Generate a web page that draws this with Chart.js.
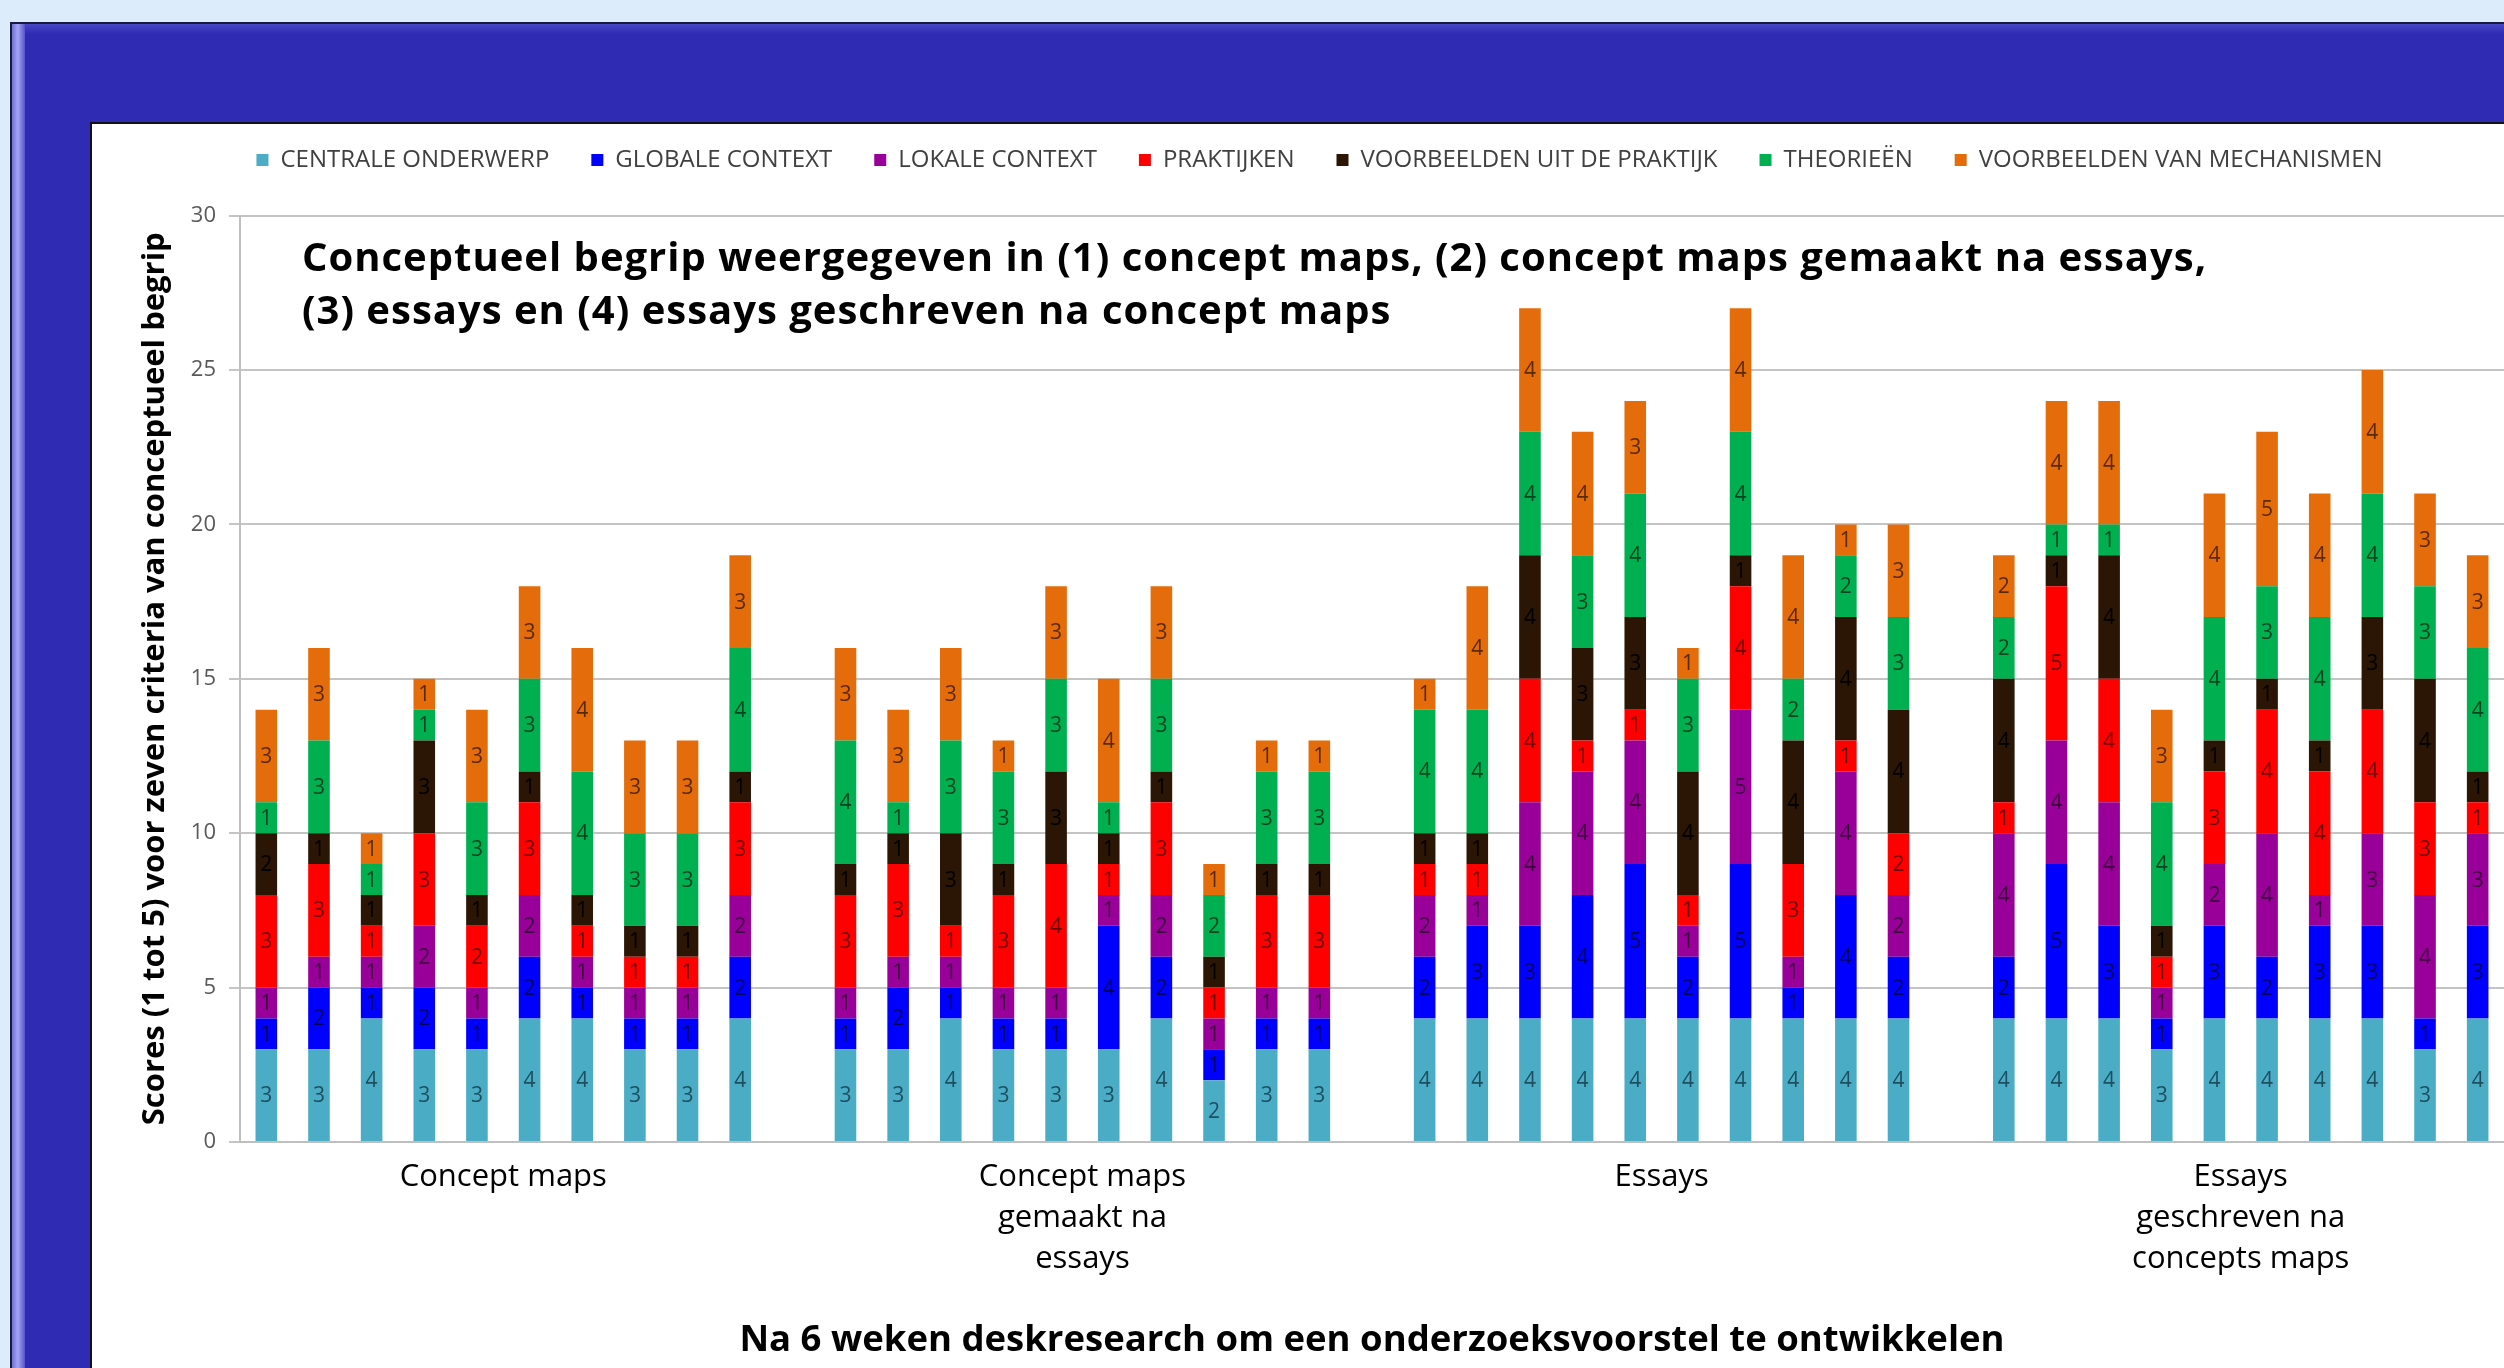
<!DOCTYPE html>
<html>
<head>
<meta charset="utf-8">
<script src="https://cdn.jsdelivr.net/npm/chart.js@4.4.1/dist/chart.umd.min.js"></script>
<style>
html, body { margin: 0; padding: 0; }
body { width: 2504px; height: 1368px; overflow: hidden; position: relative; background: #dcecfb; font-family: "Open Sans", sans-serif; }
#frame { position: absolute; left: 10px; top: 22px; width: 2600px; height: 1500px; background: #2f2bb3; border: 2px solid #1a1a40; box-sizing: border-box; }
#bevelLeft { position: absolute; left: 12px; top: 24px; width: 13px; height: 1500px; background: linear-gradient(to right, #6f6fd8, #a5a5f2 45%, #5553c8); }
#bevelTop { position: absolute; left: 25px; top: 24px; width: 2600px; height: 10px; background: linear-gradient(#4a47c6, #2f2bb3); }
#panel { position: absolute; left: 90px; top: 122px; width: 2500px; height: 1400px; background: #fff; border: 2px solid #111; }
#wrap { position: absolute; left: 93px; top: 125px; width: 2411px; height: 1243px; }
</style>
</head>
<body>
<div id="frame"></div>
<div id="bevelLeft"></div>
<div id="bevelTop"></div>
<div id="panel"></div>
<div id="wrap"><canvas id="stage" width="2411" height="1243"></canvas></div>
<script>
// series (bottom to top of each stack)
const seriesNames = ['CENTRALE ONDERWERP', 'GLOBALE CONTEXT', 'LOKALE CONTEXT', 'PRAKTIJKEN',
  'VOORBEELDEN UIT DE PRAKTIJK', 'THEORIEËN', 'VOORBEELDEN VAN MECHANISMEN'];
const seriesColors = ['#4bacc6', '#0000ff', '#990099', '#ff0000', '#2b1605', '#00b050', '#e46c0a'];
const labelColors = ['#1d4f5e', '#00005a', '#3d003d', '#6a0000', '#000000', '#00451f', '#5a2a04'];

// groups of 10 students
const groupLabels = [['Concept maps'], ['Concept maps', 'gemaakt na', 'essays'], ['Essays'],
  ['Essays', 'geschreven na', 'concepts maps']];

// scores per student: concept maps | cm na essays | essays | essays na cm
const centrale = [3,3,4,3,3,4,4,3,3,4, 3,3,4,3,3,3,4,2,3,3, 4,4,4,4,4,4,4,4,4,4, 4,4,4,3,4,4,4,4,3,4];
const globale = [1,2,1,2,1,2,1,1,1,2, 1,2,1,1,1,4,2,1,1,1, 2,3,3,4,5,2,5,1,4,2, 2,5,3,1,3,2,3,3,1,3];
const lokale = [1,1,1,2,1,2,1,1,1,2, 1,1,1,1,1,1,2,1,1,1, 2,1,4,4,4,1,5,1,4,2, 4,4,4,1,2,4,1,3,4,3];
const praktijken = [3,3,1,3,2,3,1,1,1,3, 3,3,1,3,4,1,3,1,3,3, 1,1,4,1,1,1,4,3,1,2, 1,5,4,1,3,4,4,4,3,1];
const voorbeeldenPraktijk = [2,1,1,3,1,1,1,1,1,1, 1,1,3,1,3,1,1,1,1,1, 1,1,4,3,3,4,1,4,4,4, 4,1,4,1,1,1,1,3,4,1];
const theorieen = [1,3,1,1,3,3,4,3,3,4, 4,1,3,3,3,1,3,2,3,3, 4,4,4,3,4,3,4,2,2,3, 2,1,1,4,4,3,4,4,3,4];
const mechanismen = [3,3,1,1,3,3,4,3,3,3, 3,3,3,1,3,4,3,1,1,1, 1,4,4,4,3,1,4,4,1,3, 2,4,4,3,4,5,4,4,3,3];

const yTicks = [0, 5, 10, 15, 20, 25, 30];
const titleLines = ['Conceptueel begrip weergegeven in (1) concept maps, (2) concept maps gemaakt na essays,',
  '(3) essays en (4) essays geschreven na concept maps'];

const values = [centrale, globale, lokale, praktijken, voorbeeldenPraktijk, theorieen, mechanismen];

// 10 bars per group, one empty slot between groups
const categories = [];
const gapped = values.map(() => []);
const groupCenters = [];
for (let g = 0; g < groupLabels.length; g++) {
  groupCenters.push(categories.length + 4.5);
  for (let b = 0; b < 10; b++) {
    categories.push(groupLabels[g].join(' ') + ' ' + (b + 1));
    values.forEach((v, s) => gapped[s].push(v[g * 10 + b]));
  }
  if (g < groupLabels.length - 1) {
    categories.push('');
    gapped.forEach(a => a.push(null));
  }
}

const legendGap = {
  id: 'legendGap',
  beforeLayout(chart) {
    if (chart.legend && !chart.legend._gapPatched) {
      const fit = chart.legend.fit;
      chart.legend.fit = function () { fit.call(this); this.height += 33.6; };
      chart.legend._gapPatched = true;
    }
  }
};

const segmentLabels = {
  id: 'segmentLabels',
  afterDatasetsDraw(chart) {
    const ctx = chart.ctx;
    ctx.save();
    ctx.font = '21px "Open Sans"';
    ctx.textAlign = 'center';
    ctx.textBaseline = 'middle';
    chart.data.datasets.forEach((ds, i) => {
      ctx.fillStyle = labelColors[i];
      chart.getDatasetMeta(i).data.forEach((bar, j) => {
        const v = ds.data[j];
        if (v == null) return;
        ctx.fillText(v, bar.x, (bar.y + bar.base) / 2 + 1);
      });
    });
    ctx.restore();
  }
};

const innerTitle = {
  id: 'innerTitle',
  afterDatasetsDraw(chart) {
    const {ctx, chartArea} = chart;
    ctx.save();
    ctx.font = 'bold 40px "Open Sans"';
    ctx.letterSpacing = '1px';
    ctx.fillStyle = '#000';
    ctx.textBaseline = 'middle';
    titleLines.forEach((t, i) => ctx.fillText(t, chartArea.left + 62, chartArea.top + 44 + i * 53));
    ctx.restore();
  }
};

new Chart(document.getElementById('stage'), {
  type: 'bar',
  data: {
    labels: categories,
    datasets: seriesNames.map((name, i) => ({
      label: name,
      data: gapped[i],
      backgroundColor: seriesColors[i],
      borderWidth: 0,
      barPercentage: 0.41,
      categoryPercentage: 1.0
    }))
  },
  options: {
    responsive: false,
    devicePixelRatio: 1,
    animation: false,
    layout: { padding: { top: -19, left: 42, right: 0, bottom: 0 } },
    plugins: {
      tooltip: { enabled: false },
      legend: {
        position: 'top',
        labels: {
          font: { family: '"Open Sans"', size: 24 },
          color: '#404040',
          boxWidth: 12,
          boxHeight: 12,
          padding: 42
        }
      }
    },
    scales: {
      x: {
        type: 'category',
        stacked: true,
        ticks: { display: false },
        grid: { display: false, drawTicks: false },
        border: { display: true, color: '#bfbfbf', width: 2 },
        afterFit(axis) { axis.height = 0; }
      },
      y: {
        stacked: true,
        min: 0,
        max: 30,
        afterBuildTicks(axis) { axis.ticks = yTicks.map(v => ({ value: v })); },
        ticks: { font: { family: '"Open Sans"', size: 22 }, color: '#595959', padding: 13 },
        grid: { color: '#c4c4c4', lineWidth: 2, tickLength: 11 },
        border: { display: true, color: '#bfbfbf', width: 2 },
        title: {
          display: true,
          text: 'Scores (1 tot 5) voor zeven criteria van conceptueel begrip',
          font: { family: '"Open Sans"', size: 31, weight: 'bold' },
          color: '#000',
          padding: { top: 1.4, bottom: 0 }
        },
        afterFit(axis) { axis.width = 105; }
      },
      x2: {
        type: 'linear',
        position: 'bottom',
        offset: false,
        min: -0.5,
        max: categories.length - 0.5,
        afterBuildTicks(axis) { axis.ticks = groupCenters.map(v => ({ value: v })); },
        ticks: {
          autoSkip: false,
          maxRotation: 0,
          padding: 14.5,
          color: '#000',
          font: { family: '"Open Sans"', size: 31, lineHeight: 41 / 31 },
          callback: (v, i) => groupLabels[i]
        },
        grid: { display: false, drawTicks: false, offset: false },
        border: { display: false },
        title: {
          display: true,
          text: 'Na 6 weken deskresearch om een onderzoeksvoorstel te ontwikkelen',
          font: { family: '"Open Sans"', size: 36.5, weight: 'bold' },
          color: '#000',
          padding: { top: 0, bottom: 5 }
        },
        afterFit(axis) { axis.height = 226; }
      }
    }
  },
  plugins: [legendGap, segmentLabels, innerTitle]
});
</script>
</body>
</html>
